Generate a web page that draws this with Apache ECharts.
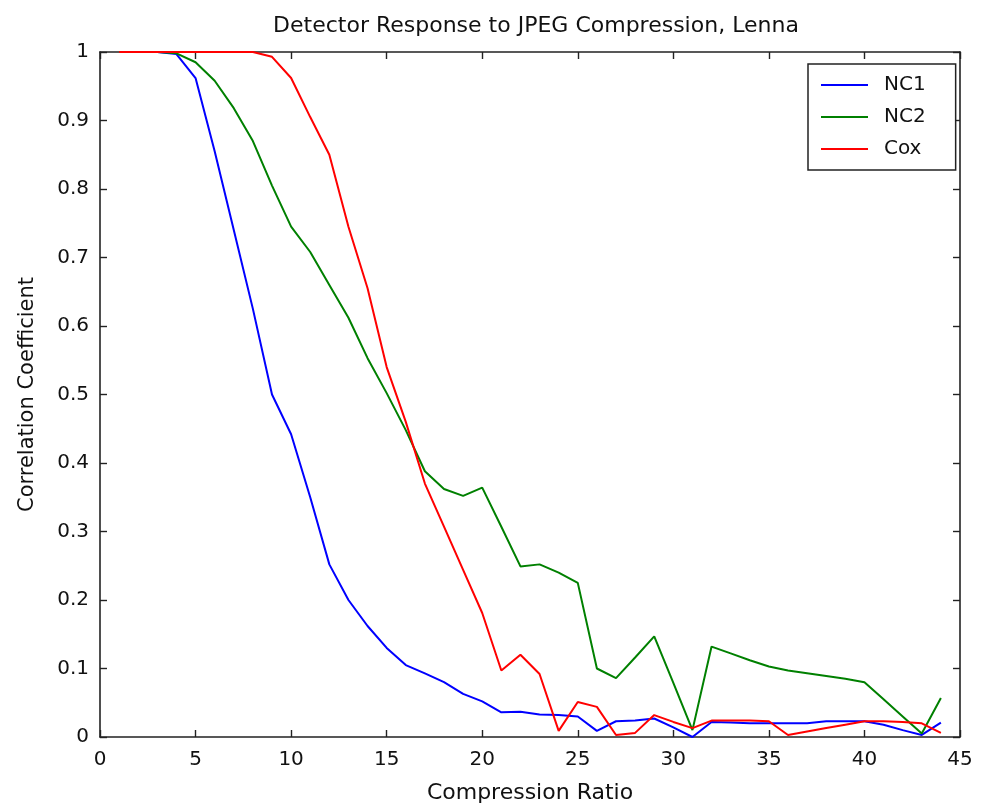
<!DOCTYPE html>
<html>
<head>
<meta charset="utf-8">
<script src="https://cdn.jsdelivr.net/npm/echarts@6/dist/echarts.min.js"></script>
<style>
  html, body { margin: 0; padding: 0; background: #ffffff; }
  #chart { width: 985px; height: 810px; }
</style>
</head>
<body>
<div id="chart"></div>
<script>
const compressionRatio = [1,2,3,4,5,6,7,8,9,10,11,12,13,14,15,16,17,18,19,20,21,22,23,24,25,26,27,28,29,30,31,32,33,34,35,36,37,38,39,40,41,42,43,44];

const nc1 = [1,1,1,0.997,0.962,0.855,0.74,0.625,0.5,0.442,0.35,0.252,0.2,0.162,0.13,0.105,0.093,0.08,0.063,0.052,0.036,0.037,0.033,0.032,0.03,0.009,0.023,0.024,0.027,0.014,0.0,0.022,0.021,0.02,0.02,0.02,0.02,0.023,0.023,0.023,0.018,0.01,0.003,0.021];

const nc2 = [1,1,1,0.998,0.985,0.958,0.918,0.87,0.805,0.745,0.708,0.66,0.612,0.553,0.502,0.448,0.388,0.362,0.352,0.364,0.307,0.249,0.252,0.24,0.225,0.1,0.086,0.116,0.147,0.079,0.01,0.132,0.122,0.112,0.103,0.097,0.093,0.089,0.085,0.08,0.055,0.03,0.005,0.057];

const cox = [1,1,1,1,1,1,1,1,0.993,0.962,0.905,0.85,0.745,0.655,0.54,0.46,0.37,0.307,0.244,0.181,0.097,0.12,0.092,0.009,0.051,0.044,0.003,0.006,0.032,0.022,0.013,0.024,0.024,0.024,0.023,0.003,0.008,0.013,0.018,0.023,0.023,0.022,0.02,0.006];

const seriesNames = ['NC1', 'NC2', 'Cox'];
const seriesColors = ['#0000ff', '#008000', '#ff0000'];
const seriesValues = [nc1, nc2, cox];

const titleText = 'Detector Response to JPEG Compression, Lenna';
const xAxisName = 'Compression Ratio';
const yAxisName = 'Correlation Coefficient';

const FONT = 'DejaVu Sans';
const TEXT_COLOR = '#111';
const AXIS_COLOR = '#222';

function pairs(xs, ys) { return xs.map((x, i) => [x, ys[i]]); }

const chart = echarts.init(document.getElementById('chart'), null, { renderer: 'canvas' });

const axisLineStyle = { show: true, onZero: false, lineStyle: { color: AXIS_COLOR, width: 1.6 } };
const tickStyle = { show: true, inside: true, length: 7, lineStyle: { color: AXIS_COLOR, width: 1.4 } };

chart.setOption({
  animation: false,
  backgroundColor: '#ffffff',
  title: {
    text: titleText,
    left: 531,
    top: 10,
    textAlign: 'center',
    textStyle: { fontFamily: FONT, fontSize: 22, fontWeight: 'normal', color: TEXT_COLOR }
  },
  grid: { left: 100, right: 25, top: 52, bottom: 73, containLabel: false },
  legend: {
    data: seriesNames,
    orient: 'vertical',
    left: 808,
    top: 64,
    icon: 'rect',
    itemWidth: 47,
    itemHeight: 2,
    itemGap: 12,
    padding: [11, 30, 11, 13],
    borderColor: AXIS_COLOR,
    borderWidth: 1.5,
    backgroundColor: '#ffffff',
    textStyle: { fontFamily: FONT, fontSize: 20, color: TEXT_COLOR, padding: [0, 0, 0, 11] }
  },
  xAxis: [
    {
      type: 'value', min: 0, max: 45, interval: 5, position: 'bottom',
      name: xAxisName, nameLocation: 'middle', nameGap: 45,
      nameTextStyle: { fontFamily: FONT, fontSize: 22, color: TEXT_COLOR },
      axisLine: axisLineStyle, axisTick: tickStyle,
      axisLabel: { fontFamily: FONT, fontSize: 20, color: TEXT_COLOR, margin: 13 },
      splitLine: { show: false }
    },
    {
      type: 'value', min: 0, max: 45, interval: 5, position: 'top',
      axisLine: axisLineStyle, axisTick: tickStyle,
      axisLabel: { show: false }, splitLine: { show: false }
    }
  ],
  yAxis: [
    {
      type: 'value', min: 0, max: 1, interval: 0.1, position: 'left',
      name: yAxisName, nameLocation: 'middle', nameGap: 62, nameRotate: 90,
      nameTextStyle: { fontFamily: FONT, fontSize: 21, color: TEXT_COLOR },
      axisLine: axisLineStyle, axisTick: tickStyle,
      axisLabel: { fontFamily: FONT, fontSize: 20, color: TEXT_COLOR, margin: 11 },
      splitLine: { show: false }
    },
    {
      type: 'value', min: 0, max: 1, interval: 0.1, position: 'right',
      axisLine: axisLineStyle, axisTick: tickStyle,
      axisLabel: { show: false }, splitLine: { show: false }
    }
  ],
  series: seriesNames.map((name, i) => ({
    name: name,
    type: 'line',
    xAxisIndex: 0,
    yAxisIndex: 0,
    data: pairs(compressionRatio, seriesValues[i]),
    showSymbol: false,
    symbol: 'none',
    lineStyle: { color: seriesColors[i], width: 2 },
    itemStyle: { color: seriesColors[i] },
    emphasis: { disabled: true }
  }))
});
</script>
</body>
</html>
